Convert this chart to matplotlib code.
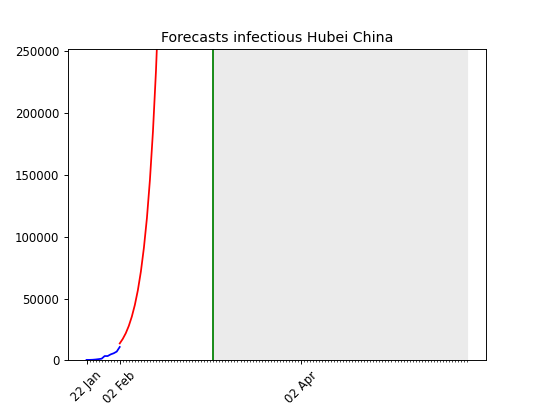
import numpy as np
import pandas as pd
import matplotlib
matplotlib.use("Agg")
import matplotlib.pyplot as plt
import matplotlib.dates as mdates

# observed infectious (Hubei)
obs_dates = pd.date_range("2020-01-22", "2020-02-02")
obs_vals = [444, 444, 549, 761, 1058, 1423, 3554, 3554, 4903, 5806, 7153, 10900]

# forecast (clipped at top of axes)
fc_dates = pd.date_range("2020-02-02", "2020-02-15")
fc_vals = [13750, 17400, 22000, 27900, 35400, 44800, 56700, 71800,
           91000, 115000, 146000, 185000, 234000, 296000]

today = pd.Timestamp("2020-03-04")
horizon_end = pd.Timestamp("2020-05-27")
tick_days = pd.date_range("2020-01-22", horizon_end)
major_ticks = [pd.Timestamp("2020-01-22"), pd.Timestamp("2020-02-02"), pd.Timestamp("2020-04-02")]
ymax = 252000

# default 6.4x4.8 figure, rendered down to 540x405
fig, ax = plt.subplots(figsize=(6.4, 4.8), dpi=84.375)

ax.axvspan(today, horizon_end, color="#ebebeb", zorder=0)
ax.axvline(today, color="green")
ax.plot(fc_dates, fc_vals, "r-")
ax.plot(obs_dates, obs_vals, "b-")

ax.set_xticks(tick_days, minor=True)
ax.set_xticks(major_ticks)
ax.xaxis.set_major_formatter(mdates.DateFormatter("%d %b"))
plt.setp(ax.get_xticklabels(), rotation=45)

pad = pd.Timedelta(days=6.3)
ax.set_xlim(tick_days[0] - pad, horizon_end + pad)
ax.set_ylim(0, ymax)
ax.set_title("Forecasts infectious Hubei China")

fig.savefig("out.png")
